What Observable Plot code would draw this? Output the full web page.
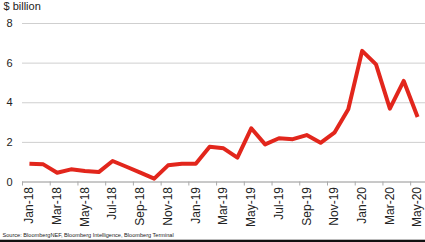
<!DOCTYPE html>
<html>
<head>
<meta charset="utf-8">
<script src="https://cdn.jsdelivr.net/npm/d3@7"></script>
<script src="https://cdn.jsdelivr.net/npm/@observablehq/plot@0.6"></script>
<style>
  html, body { margin: 0; padding: 0; background: #fff; }
  body { width: 425px; height: 242px; overflow: hidden; position: relative; font-family: "Liberation Sans", Arial, sans-serif; }
  #bar { position: absolute; left: 0; top: 240px; width: 425px; height: 2px; background: #111; }
  #line { position: absolute; left: 0; top: 239px; width: 425px; height: 1px; background: #bbb; }
</style>
</head>
<body>
<div id="chart"></div>
<div id="line"></div>
<div id="bar"></div>
<script>
const months = ["Jan-18","Feb-18","Mar-18","Apr-18","May-18","Jun-18","Jul-18","Aug-18","Sep-18","Oct-18","Nov-18","Dec-18",
  "Jan-19","Feb-19","Mar-19","Apr-19","May-19","Jun-19","Jul-19","Aug-19","Sep-19","Oct-19","Nov-19","Dec-19",
  "Jan-20","Feb-20","Mar-20","Apr-20","May-20"];
const values = [0.92,0.89,0.47,0.64,0.56,0.50,1.06,0.77,0.47,0.17,0.84,0.92,
  0.92,1.78,1.70,1.23,2.71,1.90,2.21,2.16,2.37,1.98,2.49,3.67,
  6.62,5.94,3.70,5.10,3.28];
const yTicks = [0,2,4,6,8];
const unitLabel = "$ billion";
const source = "Source: BloombergNEF, Bloomberg Intelligence, Bloomberg Terminal";

const data = months.map((m, i) => ({i, m, v: values[i]}));
const labelIdx = months.map((m, i) => i).filter(i => i % 2 === 0);
const tickIdx = labelIdx.map(i => i - 0.5);

const chart = Plot.plot({
  width: 425,
  height: 242,
  marginLeft: 22,
  marginRight: 0,
  marginTop: 23,
  marginBottom: 60.5,
  style: {fontFamily: "'Liberation Sans', Arial, sans-serif", background: "#fff", color: "#222"},
  x: {type: "linear", domain: [-0.5, 28.57]},
  y: {domain: [0, 8]},
  marks: [
    Plot.gridY(yTicks, {stroke: "#cfcfcf", strokeOpacity: 1}),
    Plot.axisY(yTicks, {tickSize: 0, tickPadding: 10, fontSize: 11, label: null, fill: "#222"}),
    Plot.ruleY([0], {stroke: "#aaa"}),
    Plot.axisX(tickIdx, {tickSize: 4, tickFormat: () => "", label: null, stroke: "#aaa"}),
    Plot.axisX(labelIdx, {tickSize: 0, tickPadding: 5, tickRotate: -90, fontSize: 12, tickFormat: i => months[i], label: null, fill: "#222"}),
    Plot.line(data, {x: "i", y: "v", stroke: "#e2261c", strokeWidth: 4, strokeLinejoin: "round", strokeLinecap: "butt"}),
    Plot.text([unitLabel], {frameAnchor: "top-left", lineAnchor: "top", text: d => d, dx: -19, dy: -21, fontSize: 11, fill: "#222", textAnchor: "start"}),
    Plot.text([source], {frameAnchor: "bottom-left", text: d => d, dx: -20, dy: 54.5, fontSize: 5.6, fill: "#222", textAnchor: "start"})
  ]
});
document.getElementById("chart").appendChild(chart);
</script>
</body>
</html>
